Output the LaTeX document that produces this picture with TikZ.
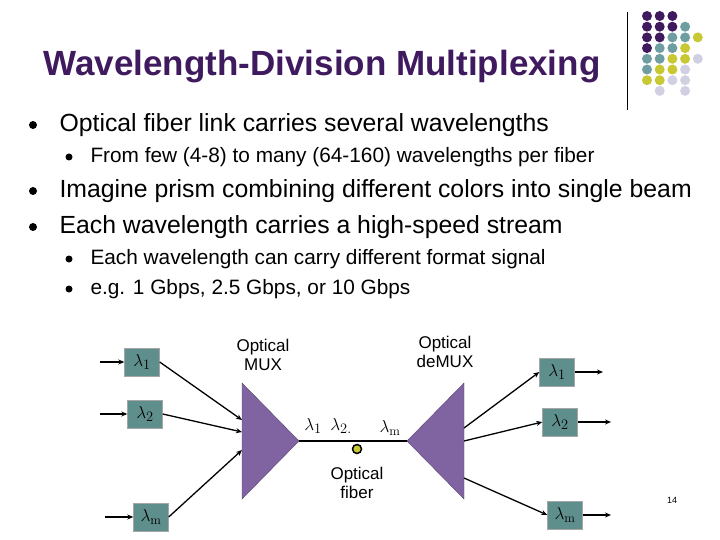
\documentclass[tikz,border=0pt]{standalone}
\usepackage{fontspec}
\setmainfont{Liberation Sans}
\newfontfamily\lmrfam{Latin Modern Roman}
\newcommand\subm{\mbox{\fontsize{13}{13}\lmrfam m}}
\usetikzlibrary{arrows.meta}
\definecolor{dP}{HTML}{3F1A5E}
\definecolor{dT}{HTML}{6E9EA0}
\definecolor{dY}{HTML}{C8C832}
\definecolor{dL}{HTML}{D0D0E2}
\definecolor{boxc}{HTML}{5F8F8C}
\definecolor{prism}{HTML}{8064A2}
\tikzset{
 lbox/.style={draw=gray!70,fill=boxc,minimum width=35pt,minimum height=28pt,inner sep=0pt,font=\fontsize{19}{19}\selectfont},
 arr/.style={-{Stealth[length=6pt,width=5pt]},line width=1.3pt},
 bul/.style={circle,fill=black,inner sep=0pt,minimum size=8pt},
 dot/.style={circle,inner sep=0pt,minimum size=10pt},
 big/.style={anchor=west,font=\fontsize{24.8}{24.8}\selectfont},
 small/.style={anchor=west,font=\fontsize{20.8}{20.8}\selectfont},
}
\begin{document}
\begin{tikzpicture}[x=1pt,y=-1pt]
\useasboundingbox (0,0) rectangle (720,540);
% decoration
\draw[line width=0.8pt] (627,12) -- (627,110);
\foreach \r/\row in {0/{dP,dP,dP,,},1/{dP,dP,dP,dT,},2/{dP,dP,dT,dT,dY},3/{dP,dT,dT,dY,},4/{dT,dT,dY,dY,dL},5/{dT,dY,dY,dL,},6/{dY,dY,dL,dL,},7/{,dL,,dL,}}{
 \foreach \c [count=\i from 0] in \row {
  \ifx\c\empty\else
   \node[dot,fill=\c] (d\r\i) at (647+12.7*\i,16+10.7*\r) {};
  \fi
 }}
% title
\node[font=\bfseries\fontsize{35}{35}\selectfont,text=dP] (title) at (322,67) {Wavelength-Division Multiplexing};
% bullets
\node[bul] (b1) at (33,125) {};
\node[big] (t1) at (56,125) {Optical fiber link carries several wavelengths};
\node[bul,minimum size=7pt] (b2) at (69,157) {};
\node[small] (t2) at (87,157) {From few (4-8) to many (64-160) wavelengths per fiber};
\node[bul] (b3) at (33,191) {};
\node[big] (t3) at (56,191) {Imagine prism combining different colors into single beam};
\node[bul] (b4) at (33,227) {};
\node[big] (t4) at (56,227) {Each wavelength carries a high-speed stream};
\node[bul,minimum size=7pt] (b5) at (69,259) {};
\node[small] (t5) at (87,259) {Each wavelength can carry different format signal};
\node[bul,minimum size=7pt] (b6) at (69,289) {};
\node[small] (t6) at (87,289) {e.g. 1 Gbps, 2.5 Gbps, or 10 Gbps};
% prisms
\draw[fill=prism,draw=prism!70!black] (242,383) coordinate (m1) -- (242,499) coordinate (m2) -- (299,441) coordinate (ma) -- cycle;
\draw[fill=prism,draw=prism!70!black] (464,383) coordinate (n1) -- (464,499) coordinate (n2) -- (407,441) coordinate (na) -- cycle;
\draw[line width=1.3pt] (ma) -- (na);
\node[dot,fill=dY,draw=black,line width=1.5pt,minimum size=9pt] (fd) at (357,449) {};
% input boxes
\node[lbox] (l1) at (142,362) {$\lambda_1$};
\node[lbox] (l2) at (145,414) {$\lambda_2$};
\node[lbox] (lm) at (151,517) {$\lambda_{\subm}$};
\coordinate (i1) at (100,362); \coordinate (i2) at (100,414); \coordinate (im) at (105,517);
\draw[arr] (i1) -- (l1); \draw[arr] (i2) -- (l2); \draw[arr] (im) -- (lm);
\coordinate (e1) at (242,420); \coordinate (e2) at (242,432); \coordinate (em) at (242,450);
\draw[arr] (l1.east) -- (e1); \draw[arr] (l2.east) -- (e2); \draw[arr] (lm.east) -- (em);
% output boxes
\node[lbox] (r1) at (557,372) {$\lambda_1$};
\node[lbox] (r2) at (560,422) {$\lambda_2$};
\node[lbox] (rm) at (565,515) {$\lambda_{\subm}$};
\coordinate (o1) at (464,428); \coordinate (o2) at (464,441); \coordinate (om) at (464,478);
\draw[arr] (o1) -- (r1.west); \draw[arr] (o2) -- (r2.west); \draw[arr] (om) -- (rm.west);
\coordinate (f1) at (603,372); \coordinate (f2) at (611,422); \coordinate (fm) at (611,515);
\draw[arr] (r1) -- (f1); \draw[arr] (r2) -- (f2); \draw[arr] (rm) -- (fm);
% labels
\node[font=\fontsize{17}{19}\selectfont,align=center] (mux) at (263,355) {Optical\\MUX};
\node[font=\fontsize{17}{19}\selectfont,align=center] (dmux) at (445,352) {Optical\\deMUX};
\node[font=\fontsize{17}{19}\selectfont,align=center] (fib) at (357,483) {Optical\\fiber};
\node[font=\fontsize{19}{19}\selectfont] (w1) at (313,426) {$\lambda_1$};
\node[font=\fontsize{19}{19}\selectfont] (w2) at (341,426) {$\lambda_{2.}$};
\node[font=\fontsize{19}{19}\selectfont] (wm) at (390,428) {$\lambda_{\subm}$};
\node[font=\fontsize{9}{9}\selectfont] (pg) at (672,500) {14};
\end{tikzpicture}
\end{document}
